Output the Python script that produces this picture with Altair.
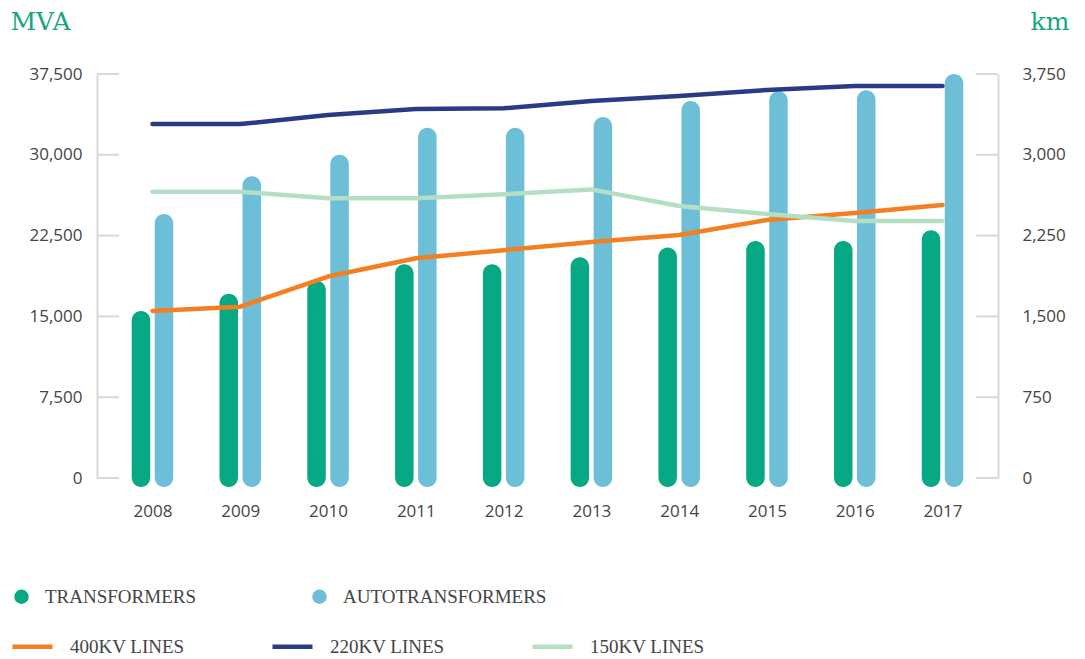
import altair as alt
import pandas as pd

years = ["2008", "2009", "2010", "2011", "2012", "2013", "2014", "2015", "2016", "2017"]
transformers = [15500, 17100, 18300, 19850, 19850, 20500, 21400, 22000, 22000, 23000]
autotransformers = [24500, 28000, 30000, 32500, 32500, 33500, 35000, 35900, 36000, 37500]
lines_400 = [1550, 1590, 1870, 2040, 2115, 2190, 2255, 2395, 2460, 2535]
lines_220 = [3285, 3285, 3370, 3425, 3432, 3500, 3546, 3602, 3638, 3638]
lines_150 = [2657, 2657, 2596, 2596, 2633, 2679, 2524, 2450, 2385, 2385]
mva_ticks = [0, 7500, 15000, 22500, 30000, 37500]
km_ticks = [0, 750, 1500, 2250, 3000, 3750]
bar_series = ["TRANSFORMERS", "AUTOTRANSFORMERS"]
line_series = ["400KV LINES", "220KV LINES", "150KV LINES"]

W, H = 901, 404
green, blue = "#07a985", "#6dbfd8"
orange, navy, pale = "#f47f20", "#2b3a84", "#b5dfc5"
gray = "#d9d9d9"
txt = "#444444"
title_green = "#17a77f"
tick_font = "Open Sans"
leg_font = "Liberation Serif"

bars_df = pd.DataFrame({
    "year": years * 2,
    "series": [bar_series[0]] * len(years) + [bar_series[1]] * len(years),
    "value": transformers + autotransformers,
})
lines_df = pd.DataFrame({
    "year": years * 3,
    "series": [line_series[0]] * 10 + [line_series[1]] * 10 + [line_series[2]] * 10,
    "value": lines_400 + lines_220 + lines_150,
})

x_enc = alt.X("year:O", scale=alt.Scale(type="point", padding=0.632),
              axis=alt.Axis(title=None, domain=False, ticks=False, labelPadding=25,
                            labelFont=tick_font, labelFontSize=17, labelColor=txt, labelAngle=0))

left_scale = alt.Scale(domain=[0, 37500], nice=False)
right_scale = alt.Scale(domain=[0, 3750], nice=False)

left_axis = alt.Axis(orient="left", values=mva_ticks, format=",.0f", domain=True, domainColor=gray,
                     domainWidth=2, ticks=False, grid=False, labelPadding=15, labelFont=tick_font,
                     labelFontSize=17, labelColor=txt, title="MVA", titleAngle=0, titleAlign="left",
                     titleBaseline="alphabetic", titleX=-87, titleY=-45, titleFont="DejaVu Serif",
                     titleFontSize=25, titleFontWeight="normal", titleColor=title_green)
right_axis = alt.Axis(orient="right", values=km_ticks, format=",.0f", domain=True, domainColor=gray,
                      domainWidth=2, ticks=False, grid=False, labelPadding=24, labelFont=tick_font,
                      labelFontSize=17, labelColor=txt, title="km", titleAngle=0, titleAlign="left",
                      titleBaseline="alphabetic", titleX=32, titleY=-45, titleFont="DejaVu Serif",
                      titleFontSize=25, titleFontWeight="normal", titleColor=title_green)

bar_legend = alt.Legend(title=None, orient="none", legendX=-85, legendY=513, direction="horizontal",
                        symbolType="circle", symbolSize=210, symbolStrokeWidth=0,
                        labelFont=leg_font, labelFontSize=19, labelColor=txt, labelOffset=14,
                        labelLimit=400, columnPadding=114)
line_legend = alt.Legend(title=None, orient="none", legendX=-87, legendY=550, direction="horizontal",
                         symbolType="stroke", symbolSize=1600, symbolStrokeWidth=4.5,
                         labelFont=leg_font, labelFontSize=19, labelColor=txt, labelOffset=15,
                         labelLimit=400, columnPadding=78)

color_bars = alt.Color("series:N", scale=alt.Scale(domain=bar_series, range=[green, blue]),
                       legend=bar_legend)
color_lines = alt.Color("series:N", scale=alt.Scale(domain=line_series, range=[orange, navy, pale]),
                        legend=line_legend)

base_bars = alt.Chart(bars_df)
bar_t = base_bars.transform_filter(alt.datum.series == bar_series[0]).mark_bar(
    width=18.5, cornerRadius=9.25, xOffset=-11.5, y2Offset=9
).encode(x=x_enc, y=alt.Y("value:Q", scale=left_scale, axis=left_axis), y2=alt.datum(0), color=color_bars)
bar_a = base_bars.transform_filter(alt.datum.series == bar_series[1]).mark_bar(
    width=18.5, cornerRadius=9.25, xOffset=11.5, y2Offset=9
).encode(x=x_enc, y=alt.Y("value:Q", scale=left_scale, axis=left_axis), y2=alt.datum(0), color=color_bars)

ticks_left = alt.Chart(pd.DataFrame({"value": mva_ticks})).mark_rule(color=gray, strokeWidth=2).encode(
    y=alt.Y("value:Q", scale=left_scale, axis=left_axis), x=alt.value(0), x2=alt.value(22))

left_group = alt.layer(ticks_left, bar_t, bar_a)

lines = alt.Chart(lines_df).mark_line(strokeWidth=4.5, strokeCap="round", strokeJoin="round").encode(
    x=x_enc, y=alt.Y("value:Q", scale=right_scale, axis=right_axis), color=color_lines)
ticks_right = alt.Chart(pd.DataFrame({"value": km_ticks})).mark_rule(color=gray, strokeWidth=2).encode(
    y=alt.Y("value:Q", scale=right_scale, axis=right_axis), x=alt.value(W - 22), x2=alt.value(W))

right_group = alt.layer(ticks_right, lines)

chart = alt.layer(left_group, right_group).resolve_scale(
    y="independent", color="independent"
).properties(
    width=W, height=H,
    autosize=alt.AutoSizeParams(type="none"),
    padding={"left": 89, "top": 66, "right": 79, "bottom": 184},
    background="white",
).configure_view(stroke=None)

chart.save("out.html", embed_options={"renderer": "svg", "actions": False})
